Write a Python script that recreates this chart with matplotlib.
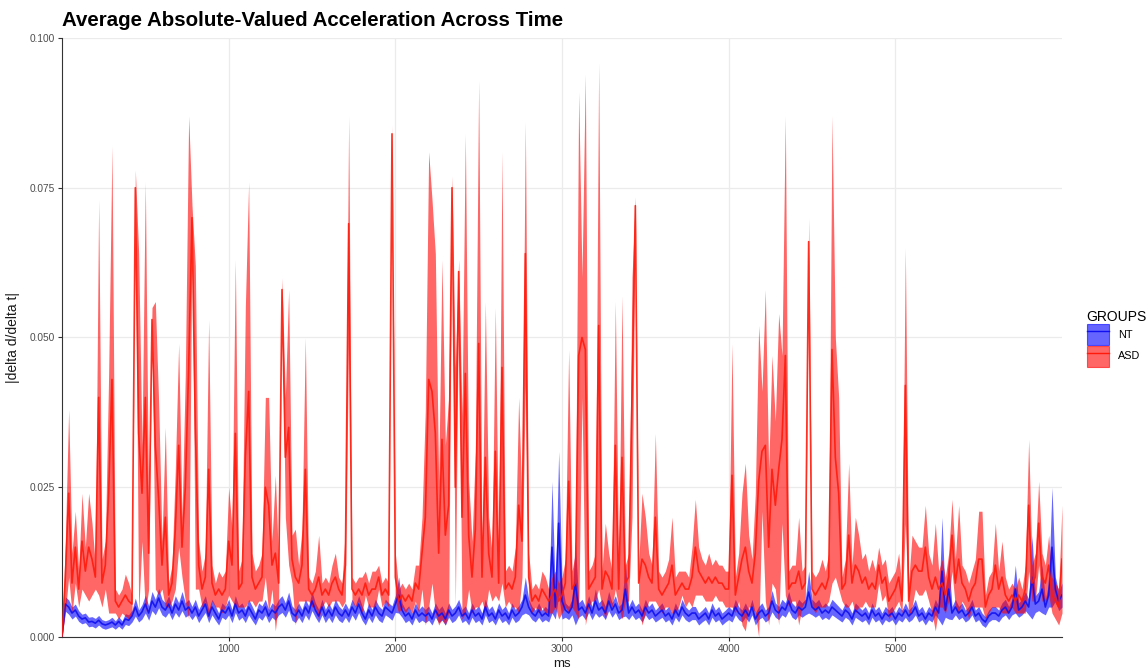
import numpy as np
import matplotlib
matplotlib.use("Agg")
import matplotlib.pyplot as plt
from matplotlib.patches import Patch
from matplotlib.lines import Line2D
from matplotlib.legend_handler import HandlerTuple

plt.rcParams['font.family'] = ['Liberation Sans', 'DejaVu Sans']

# sample times (ms), every 20 ms from 0 to 6000
time_ms = np.arange(0, 6001, 20)

# values in thousandths (x 0.001)
asd_mean = [
    0, 10, 24, 9, 15, 8, 16, 11, 15, 13,
    10, 40, 9, 12, 24, 43, 6, 5, 6, 7,
    6, 5.5, 75, 34, 24, 40, 14, 53, 32, 23,
    12, 20, 7, 9, 18, 32, 15, 25, 45, 70,
    35, 12, 8, 10, 28, 9, 7, 8, 7, 8,
    16, 12, 34, 8, 9, 30, 41, 10, 8, 9,
    10, 25, 22, 12, 14, 9, 58, 30, 35, 13,
    10, 9, 12, 28, 8, 7, 8, 10, 7, 8,
    7, 9, 10, 8, 7, 12, 69, 8, 7, 8,
    7, 9, 7, 8, 8, 10, 7, 8, 7, 84,
    10, 6, 7, 6, 7, 6, 9, 8, 14, 20,
    43, 41, 34, 14, 33, 17, 22, 75, 25, 61,
    20, 44, 17, 10, 18, 49, 10, 30, 14, 10,
    31, 9, 45, 8, 9, 8, 10, 22, 16, 64,
    10, 6, 7, 6, 8, 7, 6, 7, 8, 6,
    7, 9, 26, 8, 9, 47, 50, 48, 8, 9,
    10, 52, 8, 11, 10, 8, 32, 8, 30, 9,
    10, 40, 72, 9, 13, 12, 10, 9, 20, 8,
    7, 8, 9, 12, 7, 8, 9, 8, 8, 10,
    15, 11, 10, 9, 10, 9, 10, 9, 9, 8,
    8, 27, 7, 10, 13, 15, 11, 9, 14, 26,
    31, 32, 15, 28, 22, 28, 33, 47, 8, 9,
    9, 11, 8, 9, 66, 8, 7, 8, 9, 8,
    10, 48, 30, 24, 8, 9, 17, 9, 12, 11,
    9, 10, 8, 9, 8, 12, 9, 10, 6, 7,
    8, 10, 6, 42, 6, 11, 12, 11, 11, 15,
    10, 8, 10, 8, 9, 7, 10, 17, 9, 13,
    9, 8, 6, 8, 9, 13, 13, 5, 7, 8,
    12, 8, 10, 7, 6, 7, 6, 7, 6, 8,
    22, 9, 10, 19, 10, 9, 12, 7, 6, 5,
    13,
]

asd_se = [
    0, 6, 14, 5, 6, 3, 8, 4, 9, 6,
    2, 33, 4, 4, 20, 39, 2, 2, 2, 3.5,
    3, 1.5, 3, 30, 8, 36, 6, 2, 24, 16,
    4, 15, 2, 3, 10, 17, 5, 19, 42, 2,
    27, 4, 3, 4, 25, 3, 2, 3, 3, 3,
    9, 6, 29, 3, 4, 25, 35, 4, 3, 3,
    4, 15, 18, 4, 13, 3, 2, 10, 23, 4,
    8, 3, 6, 22, 2, 2, 3, 7, 2, 2,
    2, 3, 4, 2, 2, 6, 18, 2, 2, 2,
    3, 2, 2, 3, 3, 2, 2, 2, 2, 1.5,
    4, 2, 2, 2, 2, 2, 3, 4, 6, 18,
    38, 32, 30, 12, 30, 15, 18, 2, 20, 2,
    17, 40, 9, 6, 13, 44, 4, 26, 6, 4,
    24, 3, 36, 3, 3, 3, 5, 18, 6, 22,
    4, 2, 2, 2, 3, 3, 2, 3, 3, 3,
    3, 4, 22, 3, 5, 44, 10, 46, 3, 3,
    4, 44, 3, 8, 4, 3, 24, 3, 27, 3,
    4, 20, 1.5, 3, 11, 8, 4, 3, 14, 3,
    3, 3, 4, 8, 3, 3, 2, 3, 2, 5,
    8, 4, 3, 3, 4, 3, 3, 3, 3, 3,
    3, 22, 3, 4, 11, 14, 6, 4, 10, 26,
    10, 26, 13, 19, 14, 26, 14, 40, 3, 3,
    3, 9, 3, 3, 4, 3, 3, 3, 4, 3,
    4, 39, 20, 16, 2, 4, 12, 3, 8, 6,
    4, 4, 3, 4, 3, 3, 3, 3, 3, 3,
    3, 4, 2, 23, 3, 6, 4, 4, 4, 7,
    4, 4, 9, 3, 4, 3, 4, 6, 4, 9,
    3, 3, 3, 3, 4, 8, 8, 2, 3, 3,
    7, 3, 6, 3, 2, 2, 2, 3, 2, 4,
    11, 3, 4, 7, 4, 3, 5, 3, 3, 3,
    9,
]

nt_mean = [
    0, 5.5, 5, 4, 4.5, 3.5, 3, 3.2, 2.5, 2.6,
    2.3, 2.8, 2.2, 2, 2.2, 2.5, 2, 2.6, 2, 3,
    2.8, 3.5, 5, 3.5, 4.2, 5.5, 4, 6, 5, 6.5,
    5, 4.5, 5.5, 4, 5.5, 4.5, 6, 4.5, 5, 4,
    5, 3.5, 4.5, 5.5, 3.5, 5, 4, 3, 4.5, 4,
    5, 3.5, 5.5, 4, 4.5, 3.5, 5, 4, 3, 4.5,
    4, 5, 3.5, 4.5, 4, 5, 5.5, 4.5, 6, 4,
    3.5, 4.5, 3.5, 5, 4, 6, 4.5, 3.5, 5, 3.5,
    4.5, 3.5, 5, 4, 3.5, 4.5, 3.5, 5, 4, 5.5,
    4, 3, 4.5, 3.5, 5, 4, 3.5, 5, 4.5, 4,
    5.5, 7, 4.5, 3.5, 4, 3, 4.5, 3.5, 4, 3.5,
    4, 3, 4.5, 3.5, 4, 3, 4.5, 3.5, 4, 5,
    3.5, 4, 3, 4.5, 3.5, 4, 3, 5, 3.5, 4,
    3, 4.5, 3.5, 4, 3, 4.5, 3.5, 4, 5, 7,
    5, 4, 3.5, 4.5, 3.5, 4, 3.5, 15, 5, 19,
    6, 4.5, 4, 5, 9, 4.5, 5, 4, 5.5, 4,
    6, 4.5, 5, 4, 6, 4.5, 5.5, 4, 4.5, 8,
    4, 5, 4, 4.5, 3.5, 5, 4, 4.5, 3.5, 4,
    4.5, 3.5, 4, 3, 4.5, 3.5, 5, 4, 3.5, 4,
    4, 3, 3.5, 4, 3, 4.5, 3.5, 4, 3, 3.5,
    4, 3.5, 5, 4, 3.5, 4.5, 3.5, 5, 3, 4,
    4.5, 3.5, 4, 6, 4.5, 4, 5, 4.5, 6, 4.5,
    4, 5, 4.5, 5, 7.5, 5, 4.5, 5, 4, 4.5,
    4, 5, 4.5, 4, 3.5, 4.5, 4, 3, 4.5, 4,
    3.5, 4, 3, 4.5, 3.5, 4, 3, 4, 3.5, 4,
    3, 4, 3.5, 4.5, 3.5, 4, 5, 3.5, 4, 3,
    4, 3.5, 5, 4, 11, 4.5, 8, 4, 5, 4,
    4.5, 3.5, 4, 5, 3.5, 4, 3, 2.5, 3.5, 4,
    4, 3.5, 4.5, 5, 4, 5, 8, 4.5, 5, 6,
    5, 10, 5.5, 6, 8, 5, 7, 15, 8, 6,
    7,
]

nt_se = [
    0, 1.2, 1.2, 1, 1, 0.9, 0.8, 0.8, 0.8, 0.8,
    0.8, 0.8, 0.7, 0.7, 0.7, 0.8, 0.7, 0.8, 0.7, 0.9,
    0.9, 1, 1.5, 1, 1.2, 1.5, 1.2, 1.6, 1.3, 1.6,
    1.3, 1.2, 1.4, 1.1, 1.4, 1.2, 1.6, 1.2, 1.3, 1.1,
    1.3, 1.1, 1.2, 1.4, 1.1, 1.3, 1.2, 1, 1.2, 1.1,
    1.3, 1.1, 1.4, 1.2, 1.2, 1.1, 1.3, 1.2, 1, 1.2,
    1.2, 1.3, 1.1, 1.2, 1.2, 1.3, 1.4, 1.2, 1.5, 1.2,
    1.1, 1.2, 1.1, 1.3, 1.2, 1.6, 1.2, 1.1, 1.3, 1.1,
    1.2, 1.1, 1.3, 1.2, 1.1, 1.2, 1.1, 1.3, 1.2, 1.4,
    1.2, 1, 1.2, 1.1, 1.3, 1.2, 1.1, 1.3, 1.2, 1.2,
    1.4, 3, 1.2, 1.1, 1.2, 1, 1.2, 1.1, 1.2, 1.1,
    1.2, 1, 1.2, 1.1, 1.2, 1, 1.2, 1.1, 1.2, 1.3,
    1.1, 1.2, 1, 1.2, 1.1, 1.2, 1, 1.3, 1.1, 1.2,
    1, 1.2, 1.1, 1.2, 1, 1.2, 1.1, 1.2, 1.3, 3,
    1.3, 1.1, 1, 1.2, 1, 1.1, 1, 11, 2, 12,
    3, 1.2, 1.1, 1.3, 7, 1.2, 1.3, 1.1, 1.4, 1.1,
    2, 1.2, 1.3, 1.1, 1.6, 1.2, 1.4, 1.1, 1.2, 4.5,
    1.1, 1.3, 1.1, 1.2, 1, 1.3, 1.1, 1.2, 1, 1.1,
    1.2, 1, 1.1, 1, 1.2, 1, 1.3, 1.1, 1, 1.1,
    1.1, 1, 1, 1.1, 1, 1.2, 1, 1.1, 1, 1,
    1.1, 1, 1.3, 1.1, 1, 1.2, 1, 1.3, 1, 1.1,
    1.2, 1, 1.1, 1.8, 1.2, 1.1, 1.3, 1.2, 1.6, 1.2,
    1.1, 1.3, 1.2, 1.3, 3.5, 1.3, 1.2, 1.3, 1.1, 1.2,
    1.1, 1.3, 1.2, 1.1, 1, 1.2, 1.1, 1, 1.2, 1.1,
    1, 1.1, 1, 1.2, 1, 1.1, 1, 1.1, 1, 1.1,
    1, 1.1, 1, 1.2, 1, 1.1, 1.3, 1, 1.1, 1,
    1.1, 1, 1.3, 1.1, 9, 1.2, 5, 1.1, 1.3, 1.1,
    1.2, 1, 1.1, 1.3, 1, 1.1, 1, 0.9, 1, 1.1,
    1.1, 1, 1.2, 1.3, 1.1, 1.3, 4, 1.2, 1.3, 1.6,
    1.3, 7, 1.4, 1.6, 4, 1.3, 2, 10, 2, 1.6,
    2,
]

groups = ["NT", "ASD"]
colors = {"NT": "#0000FF", "ASD": "#FF0000"}
line_colors = {"NT": "#1010F0", "ASD": "#FF1A0A"}
xticks = [1000, 2000, 3000, 4000, 5000]
yticks = [0.0, 0.025, 0.05, 0.075, 0.1]

scale = 0.001
data = {
    "NT": (np.array(nt_mean) * scale, np.array(nt_se) * scale),
    "ASD": (np.array(asd_mean) * scale, np.array(asd_se) * scale),
}

W, H = 1148, 672
fig = plt.figure(figsize=(W / 100, H / 100), dpi=100)
ax = fig.add_axes([62 / W, (H - 637) / H, 1000 / W, 599 / H])

for g in groups:
    m, se = data[g]
    ax.fill_between(time_ms, m - se, m + se, color=colors[g], alpha=0.6,
                    linewidth=0, zorder=2)
for g in groups:
    m, se = data[g]
    ax.plot(time_ms, m, color=line_colors[g], lw=1.2, alpha=0.9, zorder=3)

ax.set_xlim(0, 6000)
ax.set_ylim(0, 0.1)
ax.set_xticks(xticks)
ax.set_yticks(yticks)
ax.set_yticklabels([f"{v:.3f}" for v in yticks])
ax.grid(True, color="#EBEBEB", lw=0.9, zorder=0)
ax.set_axisbelow(True)
for s in ["top", "right"]:
    ax.spines[s].set_visible(False)
for s in ["left", "bottom"]:
    ax.spines[s].set_color("#333333")
    ax.spines[s].set_linewidth(0.8)
ax.tick_params(axis="both", colors="#333333", labelcolor="#4D4D4D",
               labelsize=7.3, length=3, width=0.8, pad=2)

ax.set_xlabel("ms", fontsize=9.5, color="#1A1A1A", labelpad=3)
ax.set_ylabel("|delta d/delta t|", fontsize=10, color="#1A1A1A", labelpad=7)

fig.text(62 / W, 1 - 20 / H, "Average Absolute-Valued Acceleration Across Time",
         fontsize=14.8, fontweight="bold", va="center", ha="left", color="black")

handles = []
for g in groups:
    p = Patch(facecolor=colors[g], alpha=0.6, edgecolor=colors[g], linewidth=0.8)
    l = Line2D([], [], color=line_colors[g], lw=1.0)
    handles.append((p, l))
leg = fig.legend(handles, groups, title="GROUPS", loc="upper left",
                 bbox_to_anchor=(1079 / W, 1 - 302 / H), frameon=False,
                 handler_map={tuple: HandlerTuple(ndivide=1)},
                 fontsize=7.8, title_fontsize=10, handlelength=2.1,
                 handleheight=2.6, labelspacing=0.05, handletextpad=0.8,
                 alignment="left", borderpad=0.2)

fig.savefig("out.png", dpi=100)
